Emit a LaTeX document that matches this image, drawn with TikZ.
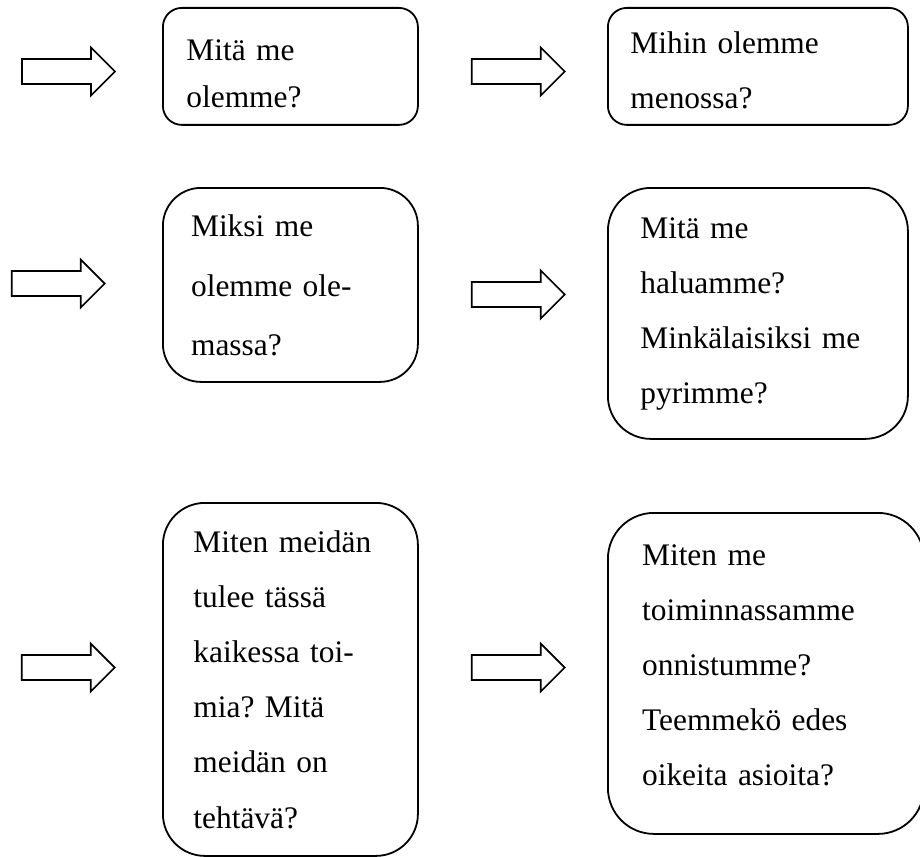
\documentclass[tikz,border=0pt]{standalone}
\usepackage{fontspec}
\setmainfont{Liberation Serif}
\usetikzlibrary{positioning}
\frenchspacing

\begin{document}
\begin{tikzpicture}[x=0.5pt, y=-0.5pt,
  box/.style={draw, line width=0.9pt, anchor=north west, inner sep=0pt},
  question/.style={anchor=base west, align=left, text width=150pt, inner sep=0pt,
    font=\fontsize{15.7}{27.6}\selectfont},
  blockarrow/.pic={\draw[line width=0.85pt]
    (0,-12.5) -- (69,-12.5) -- (69,-24) -- (93,0) -- (69,24) -- (69,12.5) -- (0,12.5) -- cycle;}]
\useasboundingbox (0,0) rectangle (920,856);
\clip (0,0) rectangle (920,856);

% ---- 1. top row ----
\pic (a1) at (22,71.5) {blockarrow};
\node[box, rounded corners=9.5pt, minimum width=127.5pt, minimum height=58.5pt] (b1) at (162,7) {};
\node[question, font=\fontsize{15.7}{23.5}\selectfont] (q1) at (186,61) {Mitä me\\olemme?};
\pic (a2) at (471.7,71.5) {blockarrow};
\node[box, rounded corners=9.5pt, minimum width=150pt, minimum height=58.5pt] (b2) at (607,7) {};
\node[question] (q2) at (630,53.3) {Mihin olemme\\menossa?};

% ---- 2. middle row ----
\pic (a3) at (11.7,283.5) {blockarrow};
\node[box, rounded corners=19pt, minimum width=127.5pt, minimum height=97pt] (b3) at (162,187) {};
\node[question, font=\fontsize{15.7}{29.8}\selectfont] (q3) at (190.7,236.7) {Miksi me\\olemme ole-\\massa?};
\pic (a4) at (471.7,294.5) {blockarrow};
\node[box, rounded corners=21.5pt, minimum width=150pt, minimum height=125.5pt] (b4) at (607,187) {};
\node[question] (q4) at (640,238.3) {Mitä me\\haluamme?\\Minkälaisiksi me\\pyrimme?};

% ---- 3. bottom row ----
\pic (a5) at (21.7,667.5) {blockarrow};
\node[box, rounded corners=21pt, minimum width=127.5pt, minimum height=176.5pt] (b5) at (162,502) {};
\node[question] (q5) at (193,552) {Miten meidän\\tulee tässä\\kaikessa toi-\\mia? Mitä\\meidän on\\tehtävä?};
\pic (a6) at (471.7,667.5) {blockarrow};
\node[box, rounded corners=23pt, minimum width=158pt, minimum height=160.5pt] (b6) at (607,512) {};
\node[question] (q6) at (641.7,565) {Miten me\\toiminnassamme\\onnistumme?\\Teemmekö edes\\oikeita asioita?};
\end{tikzpicture}
\end{document}
